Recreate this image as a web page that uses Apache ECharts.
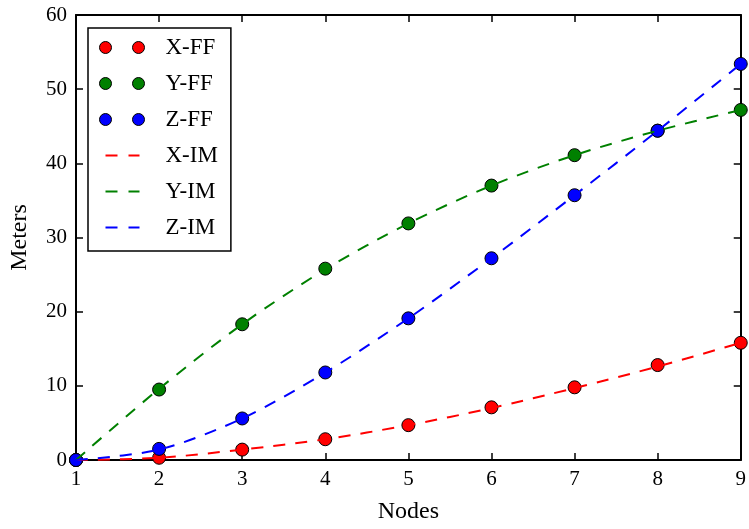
<!DOCTYPE html>
<html lang="en">
<head>
    <meta charset="UTF-8">
    <title>Nodes vs Meters</title>
    <style>
        html, body { margin: 0; padding: 0; background: #fff; }
        .chart { width: 749px; height: 529px; }
    </style>
    <script src="https://cdn.jsdelivr.net/npm/echarts@6/dist/echarts.min.js"></script>
</head>
<body>
    <div class="chart"></div>
    <script>
        // data
        var nodes = [1, 2, 3, 4, 5, 6, 7, 8, 9];
        var xFF = [0, 0.3, 1.4, 2.8, 4.7, 7.1, 9.8, 12.8, 15.8];
        var yFF = [0, 9.5, 18.3, 25.8, 31.9, 37.0, 41.1, 44.4, 47.2];
        var zFF = [0, 1.5, 5.6, 11.8, 19.1, 27.2, 35.7, 44.4, 53.4];
        var xIM = [0, 0.3, 1.4, 2.8, 4.7, 7.0, 9.7, 12.6, 15.8];
        var yIM = [0, 9.6, 18.3, 25.7, 31.9, 37.0, 41.1, 44.4, 47.2];
        var zIM = [0, 1.4, 5.6, 11.8, 19.1, 27.2, 35.7, 44.4, 53.4];
        var xTicks = [1, 2, 3, 4, 5, 6, 7, 8, 9];
        var yTicks = [0, 10, 20, 30, 40, 50, 60];

        var font = 'Liberation Serif';

        function pairs(vals) {
            return nodes.map(function (n, i) { return [n, vals[i]]; });
        }

        // legend icons: two dots / two dashes, padded to 61px wide
        var dotIcon = 'path://M0,6a6,6 0 1,0 12,0a6,6 0 1,0 -12,0z M33,6a6,6 0 1,0 12,0a6,6 0 1,0 -12,0z M61,0 M0,0';
        var dashIcon = 'path://M0,0 M6,5h12v2h-12z M29,5h11v2h-11z M61,12';

        function dots(name, color, vals) {
            return {
                name: name,
                type: 'scatter',
                data: pairs(vals),
                symbol: 'circle',
                symbolSize: 13,
                itemStyle: { color: color, borderColor: '#000', borderWidth: 1, opacity: 1 }
            };
        }

        function dashed(name, color, vals) {
            return {
                name: name,
                type: 'line',
                data: pairs(vals),
                smooth: 0.3,
                showSymbol: false,
                symbol: 'none',
                lineStyle: { color: color, width: 2, type: [12, 10] },
                itemStyle: { color: color }
            };
        }

        var tickSide = {
            show: true,
            inside: true,
            length: 7,
            lineStyle: { color: '#000', width: 1.5 }
        };

        var option = {
            animation: false,
            backgroundColor: '#fff',
            grid: { left: 76, right: 4, top: 15, bottom: 67, show: false },
            legend: {
                orient: 'vertical',
                left: 88,
                top: 28,
                padding: [8, 13, 12, 11],
                itemWidth: 61,
                itemHeight: 12,
                itemGap: 13,
                borderColor: '#000',
                borderWidth: 1.5,
                backgroundColor: '#fff',
                textStyle: { fontFamily: font, fontSize: 23, color: '#000', lineHeight: 22 },
                data: [
                    { name: 'X-FF', icon: dotIcon, itemStyle: { color: '#ff0000', borderColor: '#000', borderWidth: 1 } },
                    { name: 'Y-FF', icon: dotIcon, itemStyle: { color: '#008000', borderColor: '#000', borderWidth: 1 } },
                    { name: 'Z-FF', icon: dotIcon, itemStyle: { color: '#0000ff', borderColor: '#000', borderWidth: 1 } },
                    { name: 'X-IM', icon: dashIcon, itemStyle: { color: '#ff0000', borderWidth: 0 } },
                    { name: 'Y-IM', icon: dashIcon, itemStyle: { color: '#008000', borderWidth: 0 } },
                    { name: 'Z-IM', icon: dashIcon, itemStyle: { color: '#0000ff', borderWidth: 0 } }
                ]
            },
            xAxis: [
                {
                    type: 'value',
                    position: 'bottom',
                    min: xTicks[0],
                    max: xTicks[xTicks.length - 1],
                    interval: 1,
                    name: 'Nodes',
                    nameLocation: 'middle',
                    nameGap: 40,
                    nameTextStyle: { fontFamily: font, fontSize: 24, color: '#000' },
                    axisLine: { show: true, onZero: false, lineStyle: { color: '#000', width: 2 } },
                    axisTick: tickSide,
                    axisLabel: { fontFamily: font, fontSize: 21, color: '#000', margin: 9 },
                    splitLine: { show: false }
                },
                {
                    type: 'value',
                    position: 'top',
                    min: xTicks[0],
                    max: xTicks[xTicks.length - 1],
                    interval: 1,
                    axisLine: { show: true, onZero: false, lineStyle: { color: '#000', width: 2 } },
                    axisTick: tickSide,
                    axisLabel: { show: false },
                    splitLine: { show: false }
                }
            ],
            yAxis: [
                {
                    type: 'value',
                    position: 'left',
                    min: yTicks[0],
                    max: yTicks[yTicks.length - 1],
                    interval: 10,
                    name: 'Meters',
                    nameLocation: 'middle',
                    nameGap: 44,
                    nameTextStyle: { fontFamily: font, fontSize: 24, color: '#000' },
                    axisLine: { show: true, onZero: false, lineStyle: { color: '#000', width: 2 } },
                    axisTick: tickSide,
                    axisLabel: { fontFamily: font, fontSize: 21, color: '#000', margin: 9 },
                    splitLine: { show: false }
                },
                {
                    type: 'value',
                    position: 'right',
                    min: yTicks[0],
                    max: yTicks[yTicks.length - 1],
                    interval: 10,
                    axisLine: { show: true, onZero: false, lineStyle: { color: '#000', width: 2 } },
                    axisTick: tickSide,
                    axisLabel: { show: false },
                    splitLine: { show: false }
                }
            ],
            series: [
                dots('X-FF', '#ff0000', xFF),
                dots('Y-FF', '#008000', yFF),
                dots('Z-FF', '#0000ff', zFF),
                dashed('X-IM', '#ff0000', xIM),
                dashed('Y-IM', '#008000', yIM),
                dashed('Z-IM', '#0000ff', zIM)
            ]
        };

        var chart = echarts.init(document.querySelector('.chart'));
        chart.setOption(option);
    </script>
</body>
</html>
